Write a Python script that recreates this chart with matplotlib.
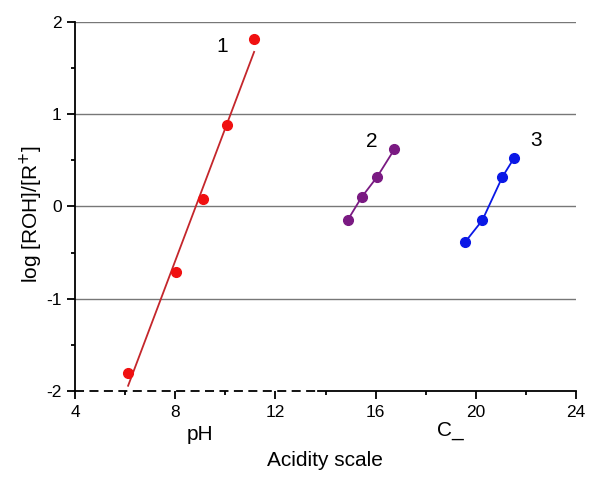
import numpy as np
import matplotlib.pyplot as plt

plt.rcParams['font.family'] = ['Liberation Sans', 'DejaVu Sans']
plt.rcParams['axes.unicode_minus'] = False

# series 1: pH scale
x1 = [6.12, 8.03, 9.11, 10.07, 11.15]
y1 = [-1.80, -0.71, 0.08, 0.88, 1.82]
# series 2 and 3: C_ scale
x2 = [14.88, 15.44, 16.06, 16.75]
y2 = [-0.15, 0.10, 0.32, 0.62]
x3 = [19.56, 20.26, 21.06, 21.54]
y3 = [-0.39, -0.15, 0.32, 0.53]

fig = plt.figure(figsize=(6, 4.83), dpi=100)
ax = fig.add_axes([0.125, 0.1905, 0.835, 0.764])

for yv in [-1, 0, 1, 2]:
    ax.axhline(yv, color='#777777', lw=1, zorder=1)

# linear fit for series 1
k, b = np.polyfit(x1, y1, 1)
xf = np.array([min(x1), max(x1)])
ax.plot(xf, k * xf + b, color='#c4262b', lw=1.3, zorder=2)
ax.plot(x1, y1, 'o', color='#f01010', ms=7, zorder=3)

ax.plot(x2, y2, '-o', color='#7a1a82', ms=7, lw=1.3, zorder=3)
ax.plot(x3, y3, '-o', color='#0a18e6', ms=7, lw=1.3, zorder=3)

ax.text(9.87, 1.73, '1', fontsize=15, ha='center', va='center')
ax.text(15.86, 0.70, '2', fontsize=15, ha='center', va='center')
ax.text(22.4, 0.72, '3', fontsize=15, ha='center', va='center')

ax.set_xlim(4, 24)
ax.set_ylim(-2, 2)
ax.spines['top'].set_visible(False)
ax.spines['right'].set_visible(False)
ax.spines['bottom'].set_visible(False)
ax.spines['left'].set_linewidth(1.3)

# bottom axis: dashed on the pH part, solid on the C_ part
ax.plot([4, 13.7], [-2, -2], color='black', lw=1.3, ls=(0, (5, 3)),
        clip_on=False, zorder=4)
ax.plot([13.7, 24], [-2, -2], color='black', lw=1.3, clip_on=False, zorder=4)

ax.set_xticks([4, 8, 12, 16, 20, 24])
ax.set_xticks([6, 10, 14, 18, 22], minor=True)
ax.set_yticks([-2, -1, 0, 1, 2])
ax.set_yticks([-1.5, -0.5, 0.5, 1.5], minor=True)
ax.tick_params(which='major', length=6, width=1.3, labelsize=12.5)
ax.tick_params(which='minor', length=3, width=1.3)
ax.tick_params(axis='x', direction='out', pad=4)

ax.set_ylabel('log [ROH]/[R$^{+}$]', fontsize=15)
ax.yaxis.set_label_coords(-0.06, 0.48)
fig.text(200 / 600, 1 - 434 / 483, 'pH', fontsize=15, ha='center', va='center')
fig.text(450 / 600, 1 - 431 / 483, 'C_', fontsize=15, ha='center', va='center')
fig.text(325 / 600, 1 - 460 / 483, 'Acidity scale', fontsize=15,
         ha='center', va='center')

fig.savefig('out.png', dpi=100)
